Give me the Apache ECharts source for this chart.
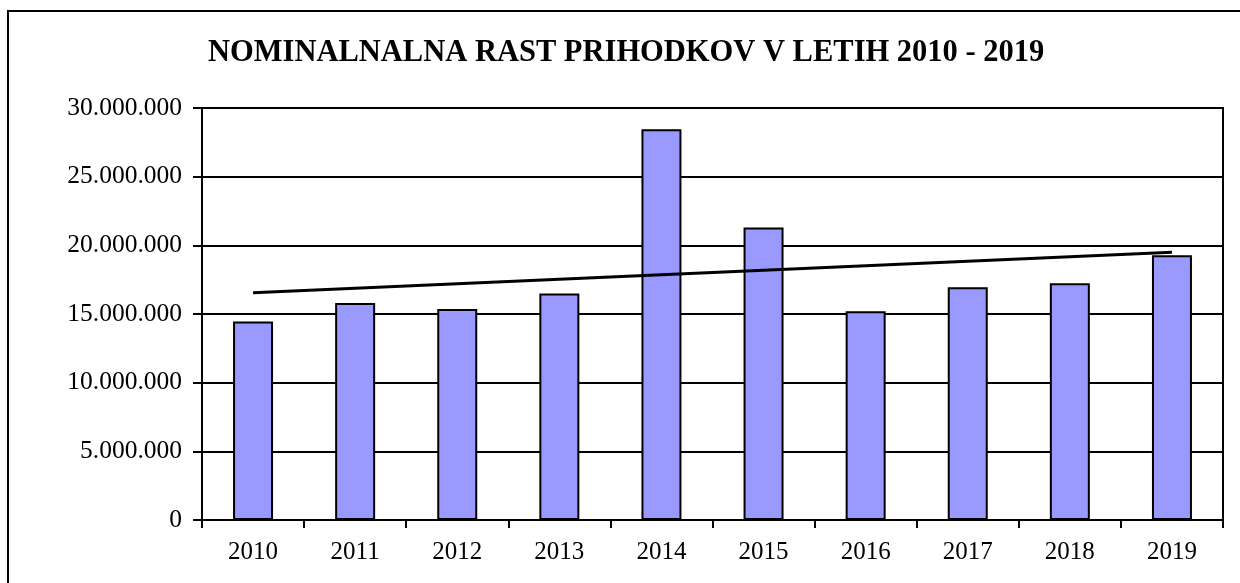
<!DOCTYPE html>
<html>
<head>
<meta charset="utf-8">
<script src="https://cdn.jsdelivr.net/npm/echarts@6/dist/echarts.min.js"></script>
<style>
html,body{margin:0;padding:0;background:#fff;}
#chart{width:1240px;height:583px;}
</style>
</head>
<body>
<div id="chart"></div>
<script>
// leta in prihodki
let years=["2010","2011","2012","2013","2014","2015","2016","2017","2018","2019"]
let revenue=[14450000,15800000,15370000,16500000,28450000,21300000,15200000,16950000,17240000,19280000]
// linearni trend - samo prva in zadnja tocka
let trend=[16550000,null,null,null,null,null,null,null,null,19500000]
let yTicks=[0,5000000,10000000,15000000,20000000,25000000,30000000]

function fmt(v){
    return String(v).replace(/\B(?=(\d{3})+(?!\d))/g,'.')
}

let chart=echarts.init(document.getElementById('chart'))
chart.setOption({
    animation:false,
    textStyle:{fontFamily:'Liberation Serif'},
    title:{
        text:'NOMINALNALNA RAST PRIHODKOV V LETIH 2010 - 2019',
        left:208,
        top:38,
        padding:0,
        textStyle:{fontFamily:'Liberation Serif',fontSize:30.5,fontWeight:'bold',color:'#000'}
    },
    graphic:[{
        type:'rect',
        shape:{x:8,y:11,width:1300,height:700},
        style:{fill:'none',stroke:'#000',lineWidth:2},
        silent:true
    }],
    grid:{left:202,right:17,top:108,bottom:63,show:true,borderColor:'#000',borderWidth:2,backgroundColor:'transparent'},
    xAxis:{
        type:'category',
        data:years,
        axisLine:{lineStyle:{color:'#000',width:2}},
        axisTick:{show:true,length:8,lineStyle:{color:'#000',width:2}},
        axisLabel:{color:'#000',fontSize:25,margin:20,fontFamily:'Liberation Serif'}
    },
    yAxis:{
        type:'value',
        min:yTicks[0],
        max:yTicks[yTicks.length-1],
        interval:5000000,
        axisLine:{show:true,lineStyle:{color:'#000',width:2}},
        axisTick:{show:true,length:9,lineStyle:{color:'#000',width:2}},
        splitLine:{lineStyle:{color:'#000',width:2}},
        axisLabel:{color:'#000',fontSize:25.5,margin:20,fontFamily:'Liberation Serif',formatter:fmt}
    },
    series:[
        {
            type:'bar',
            data:revenue,
            barWidth:40,
            itemStyle:{color:'#9999FF',borderColor:'#000',borderWidth:2}
        },
        {
            type:'line',
            data:trend,
            connectNulls:true,
            symbol:'none',
            lineStyle:{color:'#000',width:3},
            z:5
        }
    ]
})
</script>
</body>
</html>
